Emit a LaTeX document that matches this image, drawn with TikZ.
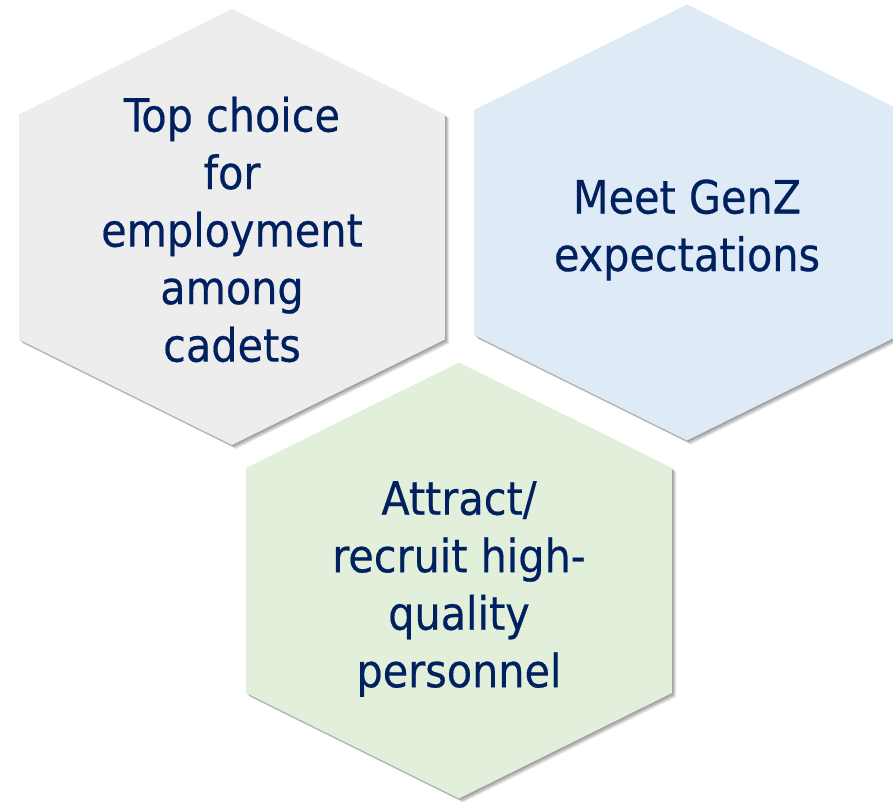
\documentclass[tikz,border=0pt]{standalone}
\usepackage{fontspec}
\newfontfamily\hexfont[FakeBold=0.4]{DejaVu Sans Condensed}
\definecolor{hexgray}{HTML}{EDEDED}
\definecolor{hexblue}{HTML}{DEEAF6}
\definecolor{hexgreen}{HTML}{E2EFDA}
\definecolor{hextext}{HTML}{002060}
\tikzset{
  hexlabel/.style={align=center, text=hextext, inner sep=0pt,
    font=\hexfont\fontsize{46}{57.5}\selectfont}
}
% hexagon: center x, center y, fill colour
\newcommand\myhexagon[3]{%
  \foreach \s in {1,2,3,4,5}{%
    \fill[black, opacity=0.09, shift={(#1+\s*0.8,#2+\s*0.8)}]
      (0,-218) -- (213,-112.5) -- (213,112.5) -- (0,218) -- (-213,112.5) -- (-213,-112.5) -- cycle;
  }%
  \fill[#3, shift={(#1,#2)}]
    (0,-218) -- (213,-112.5) -- (213,112.5) -- (0,218) -- (-213,112.5) -- (-213,-112.5) -- cycle;
}
\begin{document}
\begin{tikzpicture}[x=1pt,y=-1pt]
\useasboundingbox (0,0) rectangle (893,802);
\fill[white] (0,0) rectangle (893,802);
\myhexagon{232}{227}{hexgray}
\myhexagon{687}{222.5}{hexblue}
\myhexagon{459}{580.5}{hexgreen}
\node[hexlabel] (top) at (232,229.5) {Top choice\\for\\employment\\among\\cadets};
\node[hexlabel] (genz) at (687,230) {Meet GenZ\\expectations};
\node[hexlabel] (attract) at (459,589) {Attract/\\recruit high-\\quality\\personnel};
\end{tikzpicture}
\end{document}
